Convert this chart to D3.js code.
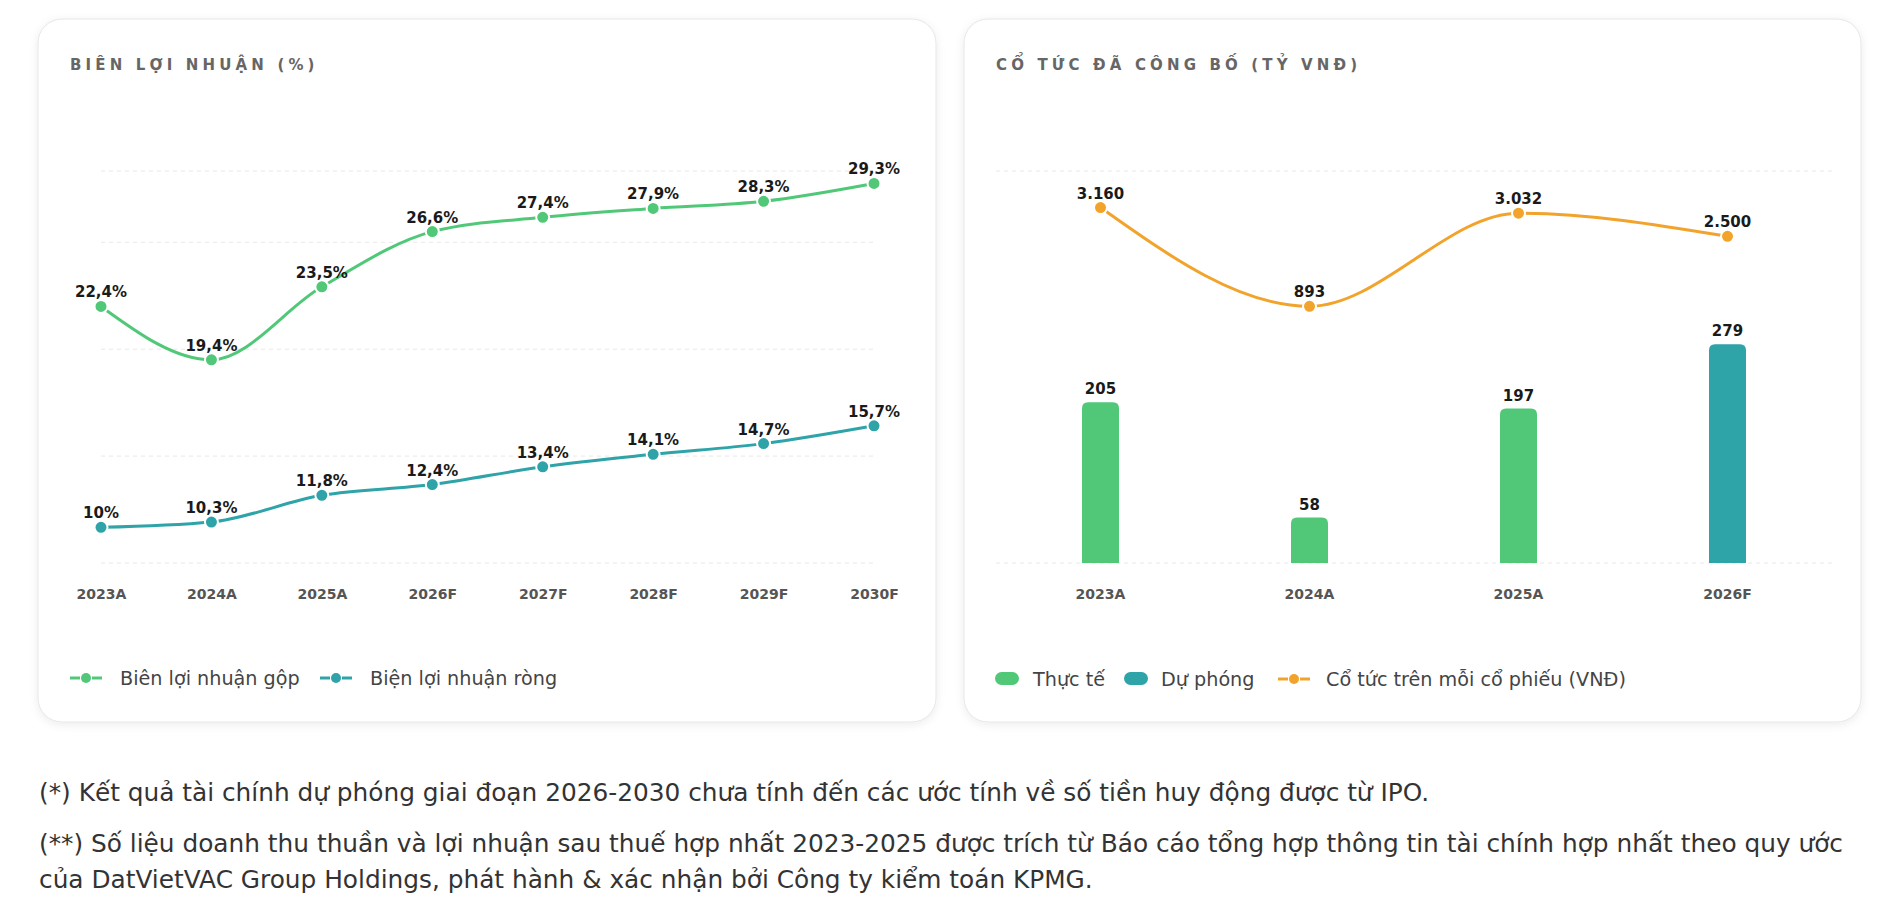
<!DOCTYPE html>
<html>
<head>
<meta charset="utf-8">
<script src="https://cdn.jsdelivr.net/npm/d3@7"></script>
<style>
  body { margin: 0; background: #fff; font-family: "DejaVu Sans", sans-serif; }
  svg { display: block; }
</style>
</head>
<body>
<svg id="chart" width="1898" height="917"></svg>
<script>
// ---- data ----
const marginYears = ["2023A", "2024A", "2025A", "2026F", "2027F", "2028F", "2029F", "2030F"];
const grossMargin = [22.4, 19.4, 23.5, 26.6, 27.4, 27.9, 28.3, 29.3];
const netMargin = [10, 10.3, 11.8, 12.4, 13.4, 14.1, 14.7, 15.7];
const marginTicks = [8, 14, 20, 26, 30];
const marginDomain = [8, 30];

const dividendYears = ["2023A", "2024A", "2025A", "2026F"];
const dividendTotal = [205, 58, 197, 279];
const dividendKind = ["Thực tế", "Thực tế", "Thực tế", "Dự phóng"];
const dividendPerShare = [3160, 893, 3032, 2500];
const dividendTicks = [0, 500];
const dividendDomain = [0, 500];
const perShareDomain = [-5000, 4000];

const notes = [
  "(*) Kết quả tài chính dự phóng giai đoạn 2026-2030 chưa tính đến các ước tính về số tiền huy động được từ IPO.",
  "(**) Số liệu doanh thu thuần và lợi nhuận sau thuế hợp nhất 2023-2025 được trích từ Báo cáo tổng hợp thông tin tài chính hợp nhất theo quy ước",
  "của DatVietVAC Group Holdings, phát hành & xác nhận bởi Công ty kiểm toán KPMG."
];

const GREEN = "#50c878";
const TEAL = "#2ea3a8";
const ORANGE = "#f2a32b";
const kindColor = { "Thực tế": GREEN, "Dự phóng": TEAL };

const vn = d3.formatLocale({ decimal: ",", thousands: ".", grouping: [3], currency: ["", ""] });
const fmtPct = (v) => vn.format(".1~f")(v) + "%";
const fmtInt = vn.format(",d");

const svg = d3.select("#chart");
const fontFamily = "'DejaVu Sans', sans-serif";

// soft shadow for the cards
const defs = svg.append("defs");
const shadow = defs.append("filter").attr("id", "shadow")
  .attr("x", "-5%").attr("y", "-5%").attr("width", "110%").attr("height", "115%");
shadow.append("feDropShadow").attr("dx", 0).attr("dy", 2).attr("stdDeviation", 4)
  .attr("flood-color", "#000").attr("flood-opacity", 0.08);

function card(x, y, w, h, title) {
  svg.append("rect")
    .attr("x", x).attr("y", y).attr("width", w).attr("height", h)
    .attr("rx", 24)
    .attr("fill", "#fff")
    .attr("stroke", "#e6e6e6")
    .attr("filter", "url(#shadow)");
  svg.append("text")
    .attr("x", x + 32).attr("y", y + 51)
    .style("font-family", fontFamily)
    .style("font-size", "15px")
    .style("font-weight", 700)
    .style("letter-spacing", "4.15px")
    .attr("fill", "#666")
    .text(title);
}

function grid(g, ticks, y, x0, x1) {
  g.selectAll(".grid").data(ticks).enter().append("line")
    .attr("class", "grid")
    .attr("x1", x0).attr("x2", x1)
    .attr("y1", (d) => y(d)).attr("y2", (d) => y(d))
    .attr("stroke", "#e8e8e8")
    .attr("stroke-dasharray", "4,4");
}

function bottomAxis(g, x, yPos) {
  const ax = g.append("g")
    .attr("transform", `translate(0,${yPos})`)
    .call(d3.axisBottom(x).tickSize(0).tickPadding(26));
  ax.select(".domain").remove();
  ax.selectAll("text")
    .style("font-family", fontFamily)
    .style("font-size", "14px")
    .style("font-weight", 700)
    .attr("fill", "#555");
}

function dots(g, data, x, y, color, fmt) {
  g.selectAll(null).data(data).enter().append("circle")
    .attr("cx", (d) => x(d.k)).attr("cy", (d) => y(d.v))
    .attr("r", 6.5)
    .attr("fill", color)
    .attr("stroke", "#fff").attr("stroke-width", 2);
  g.selectAll(null).data(data).enter().append("text")
    .attr("x", (d) => x(d.k)).attr("y", (d) => y(d.v) - 9)
    .attr("text-anchor", "middle")
    .style("font-family", fontFamily)
    .style("font-size", "15px")
    .style("font-weight", 700)
    .attr("fill", "#1a1a1a")
    .text((d) => fmt(d.v));
}

function lineIcon(g, x, y, color) {
  g.append("line").attr("x1", x).attr("x2", x + 10).attr("y1", y).attr("y2", y)
    .attr("stroke", color).attr("stroke-width", 3);
  g.append("line").attr("x1", x + 22).attr("x2", x + 32).attr("y1", y).attr("y2", y)
    .attr("stroke", color).attr("stroke-width", 3);
  g.append("circle").attr("cx", x + 16).attr("cy", y).attr("r", 5).attr("fill", color);
}

function legendText(g, x, y, label) {
  g.append("text").attr("x", x).attr("y", y).attr("dy", "0.35em")
    .style("font-family", fontFamily)
    .style("font-size", "19.2px")
    .attr("fill", "#444")
    .text(label);
}

// ---- left card: margins ----
card(38, 19, 898, 703, "BIÊN LỢI NHUẬN (%)");
const left = svg.append("g");
const xL = d3.scalePoint().domain(marginYears).range([101, 874]);
const yL = d3.scaleLinear().domain(marginDomain).range([563, 171]);
grid(left, marginTicks, yL, 101, 874);
bottomAxis(left, xL, 563);

const lineL = d3.line().curve(d3.curveMonotoneX).x((d) => xL(d.k)).y((d) => yL(d.v));
const grossData = marginYears.map((k, i) => ({ k, v: grossMargin[i] }));
const netData = marginYears.map((k, i) => ({ k, v: netMargin[i] }));
[[grossData, GREEN], [netData, TEAL]].forEach(([data, color]) => {
  left.append("path").datum(data)
    .attr("fill", "none").attr("stroke", color).attr("stroke-width", 3)
    .attr("d", lineL);
});
dots(left, grossData, xL, yL, GREEN, fmtPct);
dots(left, netData, xL, yL, TEAL, fmtPct);

const legL = svg.append("g");
lineIcon(legL, 70, 678, GREEN);
legendText(legL, 120, 678, "Biên lợi nhuận gộp");
lineIcon(legL, 320, 678, TEAL);
legendText(legL, 370, 678, "Biện lợi nhuận ròng");

// ---- right card: dividends ----
card(964, 19, 897, 703, "CỔ TỨC ĐÃ CÔNG BỐ (TỶ VNĐ)");
const right = svg.append("g");
const xR = d3.scaleBand().domain(dividendYears).range([996, 1832])
  .paddingInner(0.823).paddingOuter(0.4115);
const yBar = d3.scaleLinear().domain(dividendDomain).range([563, 171]);
const yLine = d3.scaleLinear().domain(perShareDomain).range([563, 171]);
grid(right, dividendTicks, yBar, 996, 1832);
bottomAxis(right, xR, 563);

const barData = dividendYears.map((k, i) => ({ k, v: dividendTotal[i], kind: dividendKind[i] }));
const r = 6;
right.selectAll(".bar").data(barData).enter().append("path")
  .attr("class", "bar")
  .attr("fill", (d) => kindColor[d.kind])
  .attr("d", (d) => {
    const x0 = xR(d.k), w = xR.bandwidth(), y0 = yBar(d.v), y1 = yBar(0);
    return `M${x0},${y1}V${y0 + r}Q${x0},${y0} ${x0 + r},${y0}H${x0 + w - r}Q${x0 + w},${y0} ${x0 + w},${y0 + r}V${y1}Z`;
  });
right.selectAll(".bar-label").data(barData).enter().append("text")
  .attr("class", "bar-label")
  .attr("x", (d) => xR(d.k) + xR.bandwidth() / 2)
  .attr("y", (d) => yBar(d.v) - 8)
  .attr("text-anchor", "middle")
  .style("font-family", fontFamily)
  .style("font-size", "15px")
  .style("font-weight", 700)
  .attr("fill", "#1a1a1a")
  .text((d) => fmtInt(d.v));

const xRc = (k) => xR(k) + xR.bandwidth() / 2;
const perShareData = dividendYears.map((k, i) => ({ k, v: dividendPerShare[i] }));
right.append("path").datum(perShareData)
  .attr("fill", "none").attr("stroke", ORANGE).attr("stroke-width", 3)
  .attr("d", d3.line().curve(d3.curveMonotoneX).x((d) => xRc(d.k)).y((d) => yLine(d.v)));
dots(right, perShareData, xRc, yLine, ORANGE, fmtInt);

const legR = svg.append("g");
[["Thực tế", 995, 1033], ["Dự phóng", 1124, 1161]].forEach(([label, x, tx]) => {
  legR.append("rect").attr("x", x).attr("y", 672).attr("width", 24).attr("height", 13)
    .attr("rx", 6.5).attr("fill", kindColor[label]);
  legendText(legR, tx, 679, label);
});
lineIcon(legR, 1278, 679, ORANGE);
legendText(legR, 1326, 679, "Cổ tức trên mỗi cổ phiếu (VNĐ)");

// ---- footnotes ----
const noteY = [801, 852, 888];
svg.selectAll(".note").data(notes).enter().append("text")
  .attr("class", "note")
  .attr("x", 39).attr("y", (d, i) => noteY[i])
  .style("font-family", fontFamily)
  .style("font-size", "24.8px")
  .attr("fill", "#333")
  .text((d) => d);
</script>
</body>
</html>
